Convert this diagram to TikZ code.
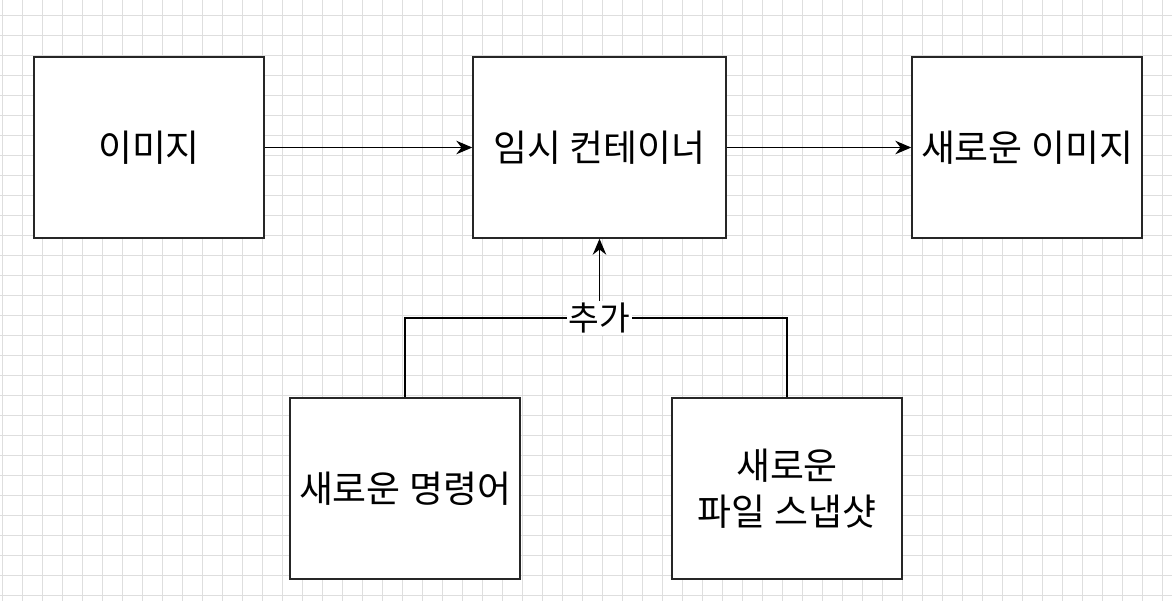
\documentclass[tikz,border=0pt]{standalone}
\usepackage{fontspec}
\setmainfont{Noto Sans CJK KR}
\usetikzlibrary{positioning, arrows.meta}
\tikzstyle{block}=[draw=black!85,fill=white,rectangle,line width=0.8pt,minimum width=4.6cm,minimum height=3.62cm,align=center,font=\fontsize{21}{26}\selectfont]
\tikzstyle{every node}=[font=\fontsize{19}{26}\selectfont]
\tikzstyle{gridline}=[draw=black!13,line width=0.4pt]

\begin{document}
\begin{tikzpicture}[auto,>={Stealth[length=3.2mm,width=2.7mm]}]
            \useasboundingbox (0,0) rectangle (23.44,-12);
            \begin{scope}
              \clip (0,0) rectangle (23.44,-12);
              \draw[gridline, shift={(0.054,-0.3)}] (-0.4,0.4) grid[step=0.4] (23.6,-12.4);
            \end{scope}
            \node[block] (img) at (2.98,-2.95) {이미지};
            \node[block, right of=img, node distance=9.01cm, minimum width=5.06cm] (tmp) {임시 컨테이너};
            \node[block, right of=tmp, node distance=8.55cm] (new) {새로운 이미지};
            \node[block, below of=tmp, node distance=6.82cm, xshift=-3.89cm] (cmd) {새로운 명령어};
            \node[block, below of=tmp, node distance=6.82cm, xshift=3.75cm] (snap) {새로운\\파일 스냅샷};
            \coordinate[below of=tmp, node distance=3.41cm] (join);
            \draw[->, line width=0.8pt] (img) -- (tmp);
            \draw[->, line width=0.8pt] (tmp) -- (new);
            \draw[line width=0.8pt] (cmd.north) |- (join) -| (snap.north);
            \node[fill=white, inner sep=1pt] (add) at (join) {추가};
            \draw[->, line width=0.8pt] (add) -- (tmp);
        \end{tikzpicture}
\end{document}
